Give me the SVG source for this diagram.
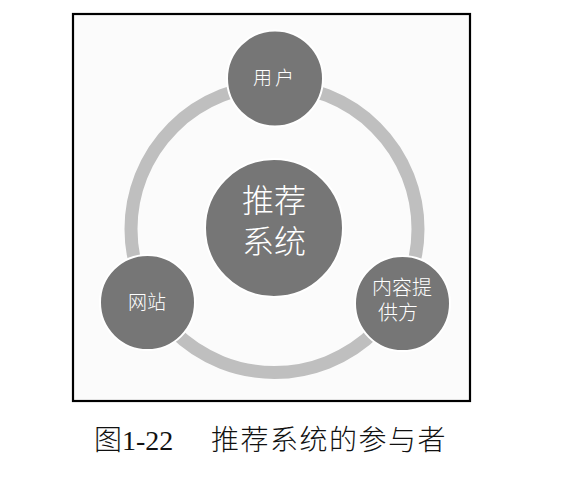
<svg xmlns="http://www.w3.org/2000/svg" width="585" height="477" viewBox="0 0 585 477">
  <style>
    .frame { fill: #fbfbfb; stroke: #000; stroke-width: 2.2; }
    .ring { fill: none; stroke: #bfbfbf; stroke-width: 13; }
    .node { fill: #767676; stroke: #ffffff; stroke-width: 2; }
    .label { fill: #ffffff; font-family: "Noto Sans CJK SC", "Noto Sans", sans-serif; text-anchor: middle; font-weight: 300; }
    .caption { fill: #111; font-family: "Liberation Serif", "Noto Sans CJK SC", serif; font-size: 28px; font-weight: 300; }
  </style>

  <rect class="frame" x="73" y="14" width="397" height="387"/>

  <!-- cycle linking the three participants -->
  <g id="connectors">
    <circle class="ring" cx="274.5" cy="229" r="143.5"/>
  </g>

  <g id="center">
    <circle class="node" cx="274" cy="228" r="69"/>
    <text class="label" font-size="32"><tspan x="274" y="212">推荐</tspan><tspan x="274" y="253">系统</tspan></text>
  </g>

  <g id="user">
    <circle class="node" cx="275" cy="78.5" r="48"/>
    <text class="label" x="275" y="85" font-size="19" letter-spacing="3">用户</text>
  </g>

  <g id="website">
    <circle class="node" cx="147.5" cy="302.5" r="47.5"/>
    <text class="label" x="147" y="309" font-size="19">网站</text>
  </g>

  <g id="provider">
    <circle class="node" cx="402.5" cy="303.5" r="47.5"/>
    <text class="label" font-size="20"><tspan x="402" y="295">内容提</tspan><tspan x="398" y="320">供方</tspan></text>
  </g>

  <text class="caption" x="94" y="450">图1-22<tspan x="211" letter-spacing="1.5">推荐系统的参与者</tspan></text>
</svg>
